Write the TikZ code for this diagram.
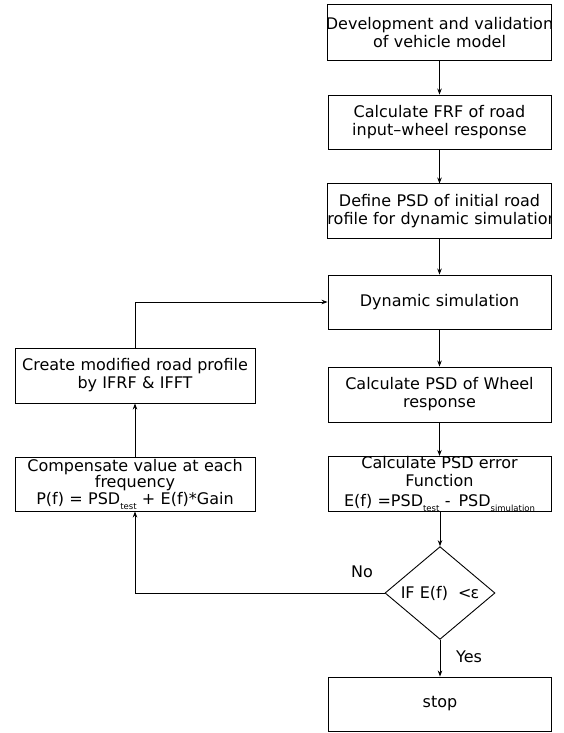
\documentclass[tikz,border=0pt]{standalone}
\usepackage{fontspec}
\setmainfont{DejaVu Sans}
\usetikzlibrary{shapes.geometric,arrows.meta}
\tikzset{
  box/.style={draw, line width=0.9pt, minimum width=223pt, text width=223pt, inner xsep=0pt, inner ysep=0pt, align=center, font=\fontsize{16}{18}\selectfont},
  nobox/.style={box, draw=none},
  arr/.style={-{Stealth[length=6pt,width=4.5pt]}, line width=0.8pt},
  ln/.style={line width=0.8pt},
  lbl/.style={font=\fontsize{16}{18}\selectfont, inner sep=0pt}
}
\newcommand{\mysub}[1]{\raisebox{-5pt}{\fontsize{8.5}{9}\selectfont #1}}
\newcommand{\wideline}[1]{\makebox[223pt][c]{#1}}
\begin{document}
\begin{tikzpicture}[x=1pt,y=-1pt]
\useasboundingbox (0,0) rectangle (563,733);
% box 1 (clipped text)
\begin{scope}
\clip (328,5) rectangle (551,60);
\node[nobox, minimum height=55pt] (b1) at (439.5,32.5) {\wideline{Development and validation}\\of vehicle model};
\end{scope}
\draw[ln] (b1.north west) rectangle (b1.south east);
% box 2
\node[box, minimum height=54pt] (b2) at (439.5,122) {Calculate FRF of road\\input\textendash wheel response};
% box 3 (clipped text)
\begin{scope}
\clip (328,184) rectangle (551,238);
\node[nobox, minimum height=54pt] (b3) at (439.5,211) {Define PSD of initial road\\\wideline{\hspace*{-4pt}profile for dynamic simulation}};
\end{scope}
\draw[ln] (b3.north west) rectangle (b3.south east);
% box 4
\node[box, minimum height=54pt] (b4) at (439.5,302) {Dynamic simulation};
% box 5
\node[box, minimum height=55pt] (b5) at (439.5,394.5) {Calculate PSD of Wheel\\response};
% box 6
\node[box, minimum height=54pt] (b6) at (439.5,484) {Calculate PSD error\\Function\\\raisebox{-2pt}{E(f) =PSD\mysub{test} - \,PSD\mysub{simulation}}};
% diamond
\node[draw, line width=0.9pt, diamond, minimum width=110pt, minimum height=90pt, inner sep=0pt, font=\fontsize{16}{18}\selectfont] (d) at (440,593) {IF E(f)\ \ <\kern-1ptε};
% stop
\node[box, minimum height=54pt] (s) at (440,704) {stop};
% left boxes
\node[box, minimum width=240pt, text width=240pt, minimum height=55pt] (l1) at (135,375.5) {Create modified road profile\\by IFRF \& IFFT};
\node[box, minimum width=240pt, text width=240pt, minimum height=54pt, font=\fontsize{16}{16.5}\selectfont] (l2) at (135,484) {Compensate value at each\\frequency\\P(f) = PSD\mysub{test} + E(f)*Gain};
% connectors
\draw[arr] (b1) -- (b2);
\draw[arr] (b2) -- (b3);
\draw[arr] (b3) -- (b4);
\draw[arr] (b4) -- (b5);
\draw[arr] (b5) -- (b6);
\draw[arr] (b6.south -| d.north) -- (d.north);
\draw[arr] (d.south) -- (d.south |- s.north);
\draw[arr] (d.west) -| (l2.south);
\draw[arr] (l2) -- (l1);
\draw[arr] (l1.north) |- (b4.west);
% labels
\node[lbl] (no) at (362,572) {No};
\node[lbl] (yes) at (469,657) {Yes};
\end{tikzpicture}
\end{document}
